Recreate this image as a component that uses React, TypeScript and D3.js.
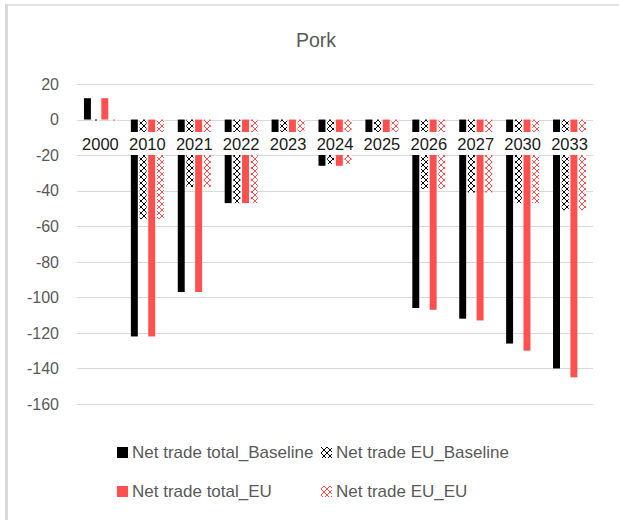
import React, { useRef, useEffect } from 'react';
import * as d3 from 'd3';

const years = ['2000', '2010', '2021', '2022', '2023', '2024', '2025', '2026', '2027', '2030', '2033'];
const totalBaseline = [12, -122, -97, -47, -9, -26, -9, -106, -112, -126, -140];
const euBaseline = [-0.5, -56, -38, -47, -9, -25, -9, -39, -41, -47, -51];
const totalEU = [12, -122, -97, -47, -9, -26, -9, -107, -113, -130, -145];
const euEU = [-0.5, -56, -38, -47, -9, -25, -9, -39, -41, -47, -51];
const yTicks = [20, 0, -20, -40, -60, -80, -100, -120, -140, -160];

const seriesNames = ['Net trade total_Baseline', 'Net trade EU_Baseline', 'Net trade total_EU', 'Net trade EU_EU'];
const RED = '#ff5050';
const FONT = '"Liberation Sans", Arial, sans-serif';

const App: React.FC = () => {
  const ref = useRef<SVGSVGElement | null>(null);

  useEffect(() => {
    if (!ref.current) return;
    const svg = d3.select(ref.current);
    svg.selectAll('*').remove();

    const width = 619;
    const height = 520;
    const plot = { left: 77, right: 593, top: 84, bottom: 404 };

    svg.append('rect').attr('width', width).attr('height', height).attr('fill', '#fff');

    // patterns (zigzag-ish confetti like the Excel fill)
    const defs = svg.append('defs');
    const makePattern = (id: string, color: string) => {
      const p = defs.append('pattern')
        .attr('id', id)
        .attr('patternUnits', 'userSpaceOnUse')
        .attr('width', 6)
        .attr('height', 6);
      p.append('rect').attr('width', 6).attr('height', 6).attr('fill', '#fff');
      p.append('path')
        .attr('d', 'M0,0L3,3L0,6M6,0L3,3L6,6')
        .attr('stroke', color)
        .attr('stroke-width', 1)
        .attr('fill', 'none');
    };
    makePattern('patBlack', '#000');
    makePattern('patRed', RED);

    const fills = ['#000', 'url(#patBlack)', RED, 'url(#patRed)'];
    const data = [totalBaseline, euBaseline, totalEU, euEU];

    // frame
    svg.append('line').attr('x1', 6.5).attr('x2', 6.5).attr('y1', 4).attr('y2', height)
      .attr('stroke', '#d9d9d9').attr('stroke-width', 3);
    svg.append('line').attr('x1', 5).attr('x2', width).attr('y1', 5).attr('y2', 5)
      .attr('stroke', '#d9d9d9').attr('stroke-width', 1.5);

    // title
    svg.append('text')
      .attr('x', 316).attr('y', 47)
      .attr('text-anchor', 'middle')
      .attr('font-family', FONT).attr('font-size', 19.5)
      .attr('fill', '#595959')
      .text('Pork');

    const x0 = d3.scaleBand<string>().domain(years).range([plot.left, plot.right]).padding(0);
    const inner = 33;
    const x1 = d3.scaleBand<number>().domain([0, 1, 2, 3])
      .range([(x0.bandwidth() - inner) / 2, (x0.bandwidth() + inner) / 2])
      .paddingInner(0.2);
    const y = d3.scaleLinear().domain([20, -160]).range([plot.top, plot.bottom]);

    // gridlines
    svg.append('g').selectAll('line').data(yTicks).enter().append('line')
      .attr('x1', plot.left).attr('x2', plot.right)
      .attr('y1', d => Math.round(y(d)) + 0.5).attr('y2', d => Math.round(y(d)) + 0.5)
      .attr('stroke', '#d9d9d9').attr('stroke-width', 1);

    svg.append('g').selectAll('text').data(yTicks).enter().append('text')
      .attr('x', 59).attr('y', d => y(d))
      .attr('dy', '0.36em')
      .attr('text-anchor', 'end')
      .attr('font-family', FONT).attr('font-size', 16)
      .attr('fill', '#595959')
      .text(d => d3.format('d')(d).replace('−', '-'));

    // bars
    data.forEach((vals, si) => {
      svg.append('g').selectAll('rect').data(vals).enter().append('rect')
        .attr('x', (_, i) => (x0(years[i]) as number) + (x1(si) as number))
        .attr('width', x1.bandwidth())
        .attr('y', d => y(Math.max(0, d)))
        .attr('height', d => Math.abs(y(d) - y(0)))
        .attr('fill', fills[si]);
    });

    // category labels with background
    svg.append('rect')
      .attr('x', plot.left).attr('y', 132)
      .attr('width', plot.right - plot.left).attr('height', 23)
      .attr('fill', '#fff');
    svg.append('g').selectAll('text').data(years).enter().append('text')
      .attr('x', d => (x0(d) as number) + x0.bandwidth() / 2)
      .attr('y', 150)
      .attr('text-anchor', 'middle')
      .attr('font-family', FONT).attr('font-size', 16.5)
      .attr('fill', '#1a1a1a')
      .text(d => d);

    // legend
    const legendPos = [
      { x: 117, y: 458 },
      { x: 321, y: 458 },
      { x: 117, y: 497 },
      { x: 321, y: 497 },
    ];
    seriesNames.forEach((name, i) => {
      const p = legendPos[i];
      svg.append('rect')
        .attr('x', p.x).attr('y', p.y - 11)
        .attr('width', 11).attr('height', 11)
        .attr('fill', fills[i]);
      svg.append('text')
        .attr('x', p.x + 15).attr('y', p.y)
        .attr('font-family', FONT).attr('font-size', 17)
        .attr('fill', '#595959')
        .text(name);
    });
  }, []);

  return (
    <svg
      ref={ref}
      width={619}
      height={520}
      style={{ position: 'absolute', left: 0, top: 0, display: 'block' }}
    />
  );
};

export default App;
